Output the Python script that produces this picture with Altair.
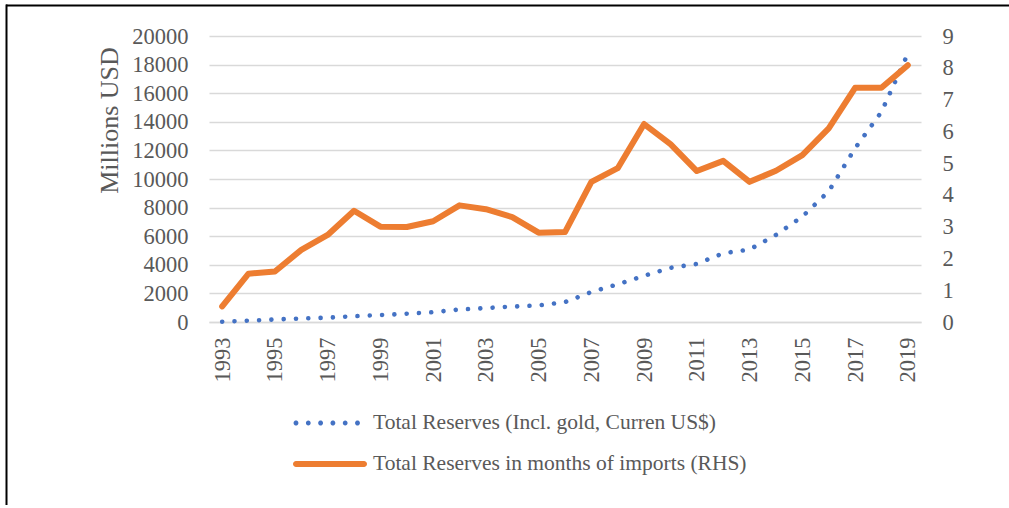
import altair as alt
import pandas as pd

# Cambodia: total reserves (millions USD, left axis) and reserves in months of imports (right axis)
years = [str(y) for y in range(1993, 2020)]
reserves_musd = [20, 95, 175, 245, 300, 405, 485, 580, 685, 875, 975, 1080, 1160, 1390,
                 2100, 2640, 3230, 3790, 4060, 4810, 5070, 6090, 7370, 9140, 12150, 14690, 18760]
months_imports = [0.49, 1.52, 1.59, 2.27, 2.74, 3.50, 3.00, 2.99, 3.17, 3.67, 3.55, 3.30, 2.81, 2.83,
                  4.41, 4.84, 6.23, 5.60, 4.75, 5.07, 4.41, 4.76, 5.25, 6.09, 7.37, 7.37, 8.08]
series_names = ["Total Reserves (Incl. gold, Curren US$)",
                "Total Reserves in months of imports (RHS)"]
left_ticks = list(range(0, 20001, 2000))
right_ticks = list(range(0, 10))
x_label_years = years[::2]

BLUE = "#4472C4"
ORANGE = "#ED7D31"
TEXT = "#595959"
GRID = "#D9D9D9"
FONT = "Liberation Serif"

df = pd.DataFrame({"year": years, "reserves": reserves_musd, "months": months_imports})
legend_df = pd.DataFrame({"series": series_names})
frame_df = pd.DataFrame({"edge": ["frame"]})

TOTAL_H = 505
W, H = 712, 286
PAD = {"left": 209, "top": 36, "right": 1009 - 209 - W, "bottom": TOTAL_H - 36 - H}

# Legend glyphs as custom symbol paths (unit box -1..1, scaled by sqrt(size)/2)
SYM = 74
u = SYM / 2


def dots_path():
    r = 2.4 / u
    parts = []
    for i in range(6):
        c = -1 + 3 / u + i * 12.3 / u
        parts.append(f"M{c - r:.4f},0A{r:.4f},{r:.4f},0,1,0,{c + r:.4f},0"
                     f"A{r:.4f},{r:.4f},0,1,0,{c - r:.4f},0Z")
    return "".join(parts)


def bar_path():
    h = 3 / u
    e = 1 - h
    return (f"M{-e:.4f},{-h:.4f}L{e:.4f},{-h:.4f}A{h:.4f},{h:.4f},0,0,1,{e:.4f},{h:.4f}"
            f"L{-e:.4f},{h:.4f}A{h:.4f},{h:.4f},0,0,1,{-e:.4f},{-h:.4f}Z")


x_enc = alt.X("year:O", title=None,
              scale=alt.Scale(type="point", padding=0.5),
              axis=alt.Axis(values=x_label_years, labelAngle=-90, labelPadding=15,
                            labelOverlap=False, ticks=False, domain=True,
                            domainColor=GRID, domainWidth=1.5, grid=False))

reserves_line = alt.Chart(df).mark_line(
    color=BLUE, strokeWidth=4.6, strokeCap="round", strokeDash=[0.01, 12.3]
).encode(
    x=x_enc,
    y=alt.Y("reserves:Q",
            scale=alt.Scale(domain=[0, 20000], nice=False),
            axis=alt.Axis(orient="left", values=left_ticks, format="d", title="Millions USD",
                          grid=True, gridColor=GRID, gridWidth=1.5,
                          domain=False, ticks=False, labelPadding=21,
                          titleFontSize=26, titleFont=FONT, titleColor=TEXT,
                          titleFontWeight="normal", titleX=-92, titleY=84,
                          titleAlign="center", titleBaseline="alphabetic", titleAngle=270)),
)

months_line = alt.Chart(df).mark_line(
    color=ORANGE, strokeWidth=6, strokeCap="round", strokeJoin="round"
).encode(
    x=x_enc,
    y=alt.Y("months:Q",
            scale=alt.Scale(domain=[0, 9], nice=False),
            axis=alt.Axis(orient="right", values=right_ticks, title=None, grid=False,
                          domain=False, ticks=False, labelPadding=21)),
)

legend_props = dict(orient="none", legendX=84, legendY=377, direction="vertical", title=None,
                    labelFont=FONT, labelFontSize=21.5, labelColor=TEXT, labelLimit=700,
                    labelOffset=6, symbolSize=SYM * SYM, symbolStrokeWidth=0,
                    clipHeight=20, rowPadding=19, padding=0)

legend_layer = alt.Chart(legend_df).transform_filter("false").mark_point(
    filled=True, opacity=1
).encode(
    color=alt.Color("series:N",
                    scale=alt.Scale(domain=series_names, range=[BLUE, ORANGE]),
                    legend=alt.Legend(**legend_props)),
    shape=alt.Shape("series:N",
                    scale=alt.Scale(domain=series_names, range=[dots_path(), bar_path()]),
                    legend=alt.Legend(**legend_props)),
)

# Outer frame (top and left edges of the figure box), drawn as thin filled rects
frame_top = alt.Chart(frame_df).mark_rect(color="black").encode(
    x=alt.value(-203), x2=alt.value(800), y=alt.value(-31.5), y2=alt.value(-29.5))
frame_left = alt.Chart(frame_df).mark_rect(color="black").encode(
    x=alt.value(-203.5), x2=alt.value(-201.5), y=alt.value(-31.5), y2=alt.value(TOTAL_H - 36))

chart = alt.layer(
    reserves_line, months_line, legend_layer, frame_top, frame_left
).resolve_scale(
    y="independent"
).properties(
    width=W, height=H, padding=PAD, autosize="none", background="white"
).configure_view(
    stroke=None
).configure_axis(
    labelFont=FONT, labelFontSize=22.5, labelColor=TEXT
)

chart.save("out.html", embed_options={"renderer": "svg", "actions": False})
